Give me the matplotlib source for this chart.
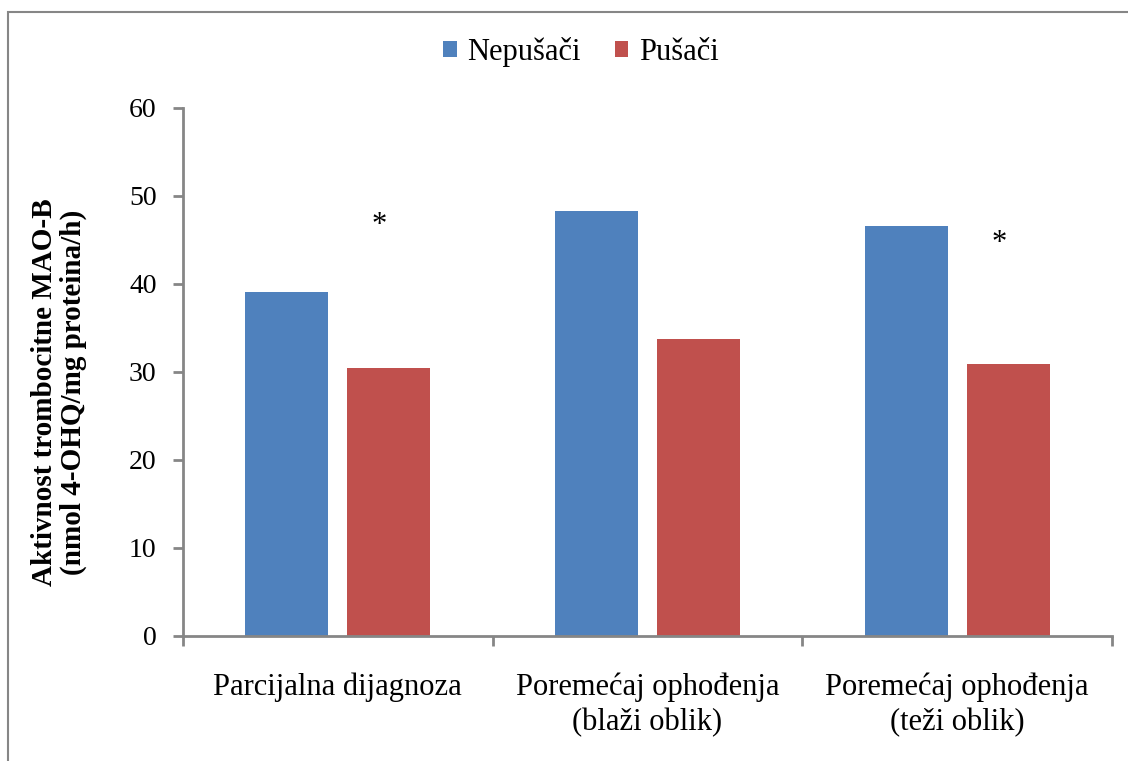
import numpy as np
import matplotlib.pyplot as plt
from matplotlib.patches import Rectangle

categories = ['Parcijalna dijagnoza', 'Poremećaj ophođenja\n(blaži oblik)', 'Poremećaj ophođenja\n(teži oblik)']
nepusaci = [39.1, 48.3, 46.6]
pusaci = [30.5, 33.8, 30.9]
star_y = [46.6, None, 44.6]
series_names = ['Nepušači', 'Pušači']

plt.rcParams['font.family'] = ['Liberation Serif', 'DejaVu Serif']

fig = plt.figure(figsize=(11.28, 7.61), dpi=100)
ax = fig.add_axes([0.1622, 0.1643, 0.8236, 0.6938])

x = np.arange(len(categories))
w = 0.268
off = 0.165
ax.bar(x - off, nepusaci, w, color='#4F81BD', label=series_names[0])
ax.bar(x + off, pusaci, w, color='#C0504D', label=series_names[1])

for xi, s in zip(x, star_y):
    if s is not None:
        ax.text(xi + off - 0.03, s, '*', ha='center', va='center', fontsize=22)

ax.set_xlim(-0.5, 2.5)
ax.set_ylim(0, 60)
ax.set_yticks(range(0, 61, 10))
ax.set_xticks([-0.5, 0.5, 1.5, 2.5])
ax.set_xticklabels([])
ax.set_xticks(x, minor=True)
ax.set_xticklabels(categories, minor=True, fontsize=22, linespacing=1.3)
ax.tick_params(axis='x', which='minor', length=0, pad=26)
ax.tick_params(axis='x', which='major', direction='out', length=7, width=2, color='#868686')
ax.tick_params(axis='y', direction='out', length=7, width=2, color='#868686', labelsize=20, pad=12)

for side in ['top', 'right']:
    ax.spines[side].set_visible(False)
for side in ['left', 'bottom']:
    ax.spines[side].set_color('#868686')
    ax.spines[side].set_linewidth(2)

ax.set_ylabel('Aktivnost trombocitne MAO-B\n(nmol 4-OHQ/mg proteina/h)', fontsize=21,
              fontweight='bold', labelpad=30, linespacing=1.1)
ax.yaxis.label.set_y(0.462)

fig.legend(loc='center', bbox_to_anchor=(0.515, 0.932), ncol=2, frameon=False, fontsize=22,
           handlelength=0.45, handleheight=0.45, handletextpad=0.35, columnspacing=1.1)

fig.patches.append(Rectangle((8 / 1128, -0.1), 1.2, 1 - 12 / 761 + 0.1, transform=fig.transFigure,
                             fill=False, edgecolor='#868686', linewidth=1.5))

fig.savefig('out.png', dpi=100)
